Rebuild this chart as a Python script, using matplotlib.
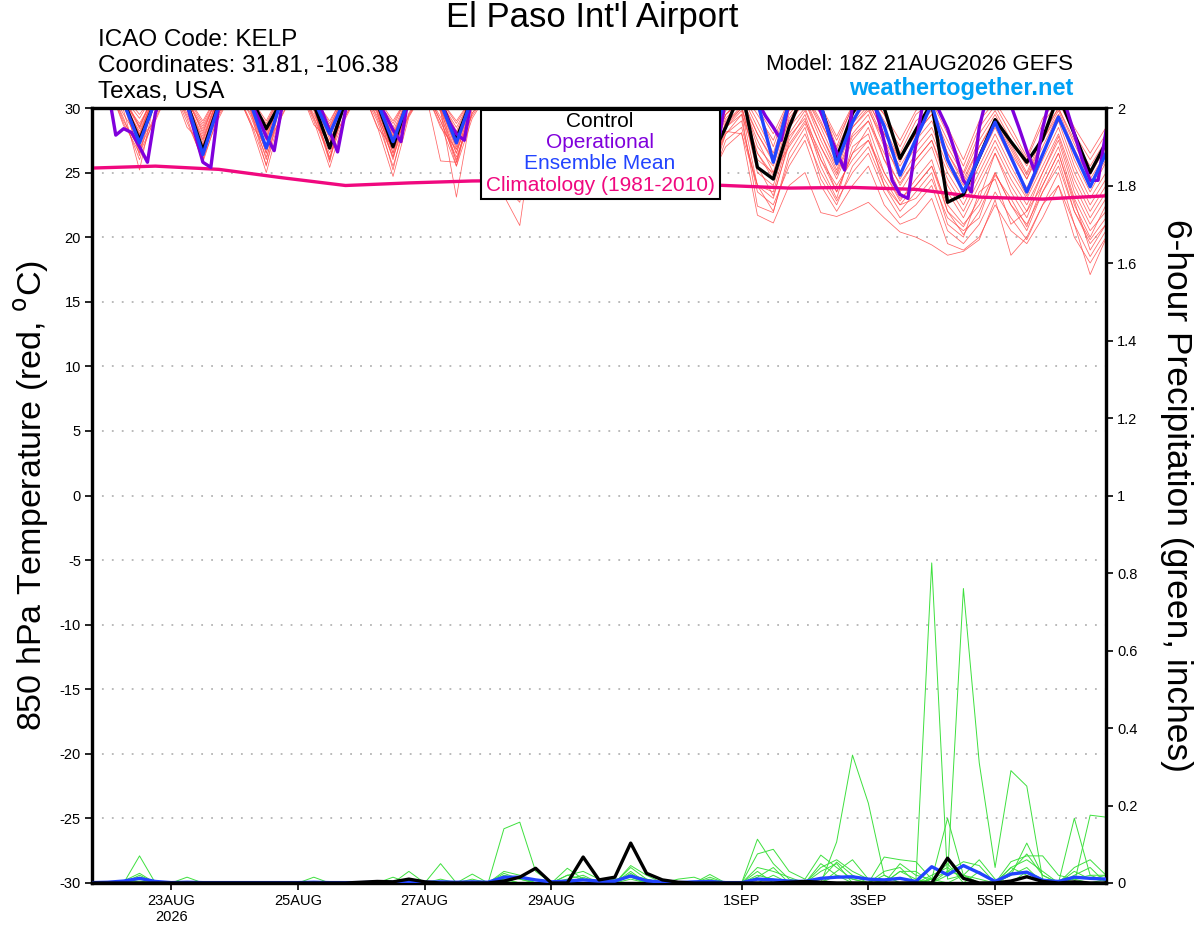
import numpy as np
import matplotlib
matplotlib.use("Agg")
import matplotlib.pyplot as plt
from matplotlib.patches import Rectangle

plt.rcParams['font.family'] = ['Liberation Sans', 'DejaVu Sans']
plt.rcParams['axes.unicode_minus'] = False

# ---------------- DATA ----------------
start = np.datetime64('2026-08-21T18:00')
n6 = 65    # 6-hourly steps (ensemble, control, mean, precip)
n3 = 129   # 3-hourly steps (operational)

ens_mean_t = [31.5, 32.0, 30.4, 27.3, 30.6, 32.0, 30.3, 26.4, 30.2, 32.0, 30.4, 26.9,
              30.8, 32.2, 30.6, 28.0, 30.8, 32.0, 30.5, 27.4, 30.7, 32.0, 30.4, 27.3,
              30.8, 31.8, 30.4, 27.5, 30.8, 31.8, 30.3, 27.0, 30.6, 31.6, 30.2, 26.6,
              30.5, 31.5, 30.0, 26.5, 31.0, 31.5, 30.5, 25.8, 30.5, 31.5, 30.3, 25.7,
              28.9, 31.2, 28.6, 24.8, 27.6, 30.3, 26.0, 23.5, 26.2, 28.9, 26.2, 23.5,
              26.4, 29.3, 26.6, 23.9, 26.5]

control_t = [31.5, 32.2, 30.5, 27.5, 30.6, 32.2, 30.4, 26.7, 30.3, 32.0, 30.8, 28.4,
             30.6, 32.0, 30.3, 26.9, 30.5, 32.0, 30.4, 27.0, 30.8, 32.0, 30.5, 27.6,
             30.8, 31.8, 30.3, 27.5, 30.6, 31.6, 30.2, 27.2, 30.4, 31.5, 30.1, 26.8,
             30.3, 31.5, 29.8, 26.0, 28.5, 31.5, 25.4, 24.5, 28.5, 31.5, 30.2, 26.1,
             29.6, 31.5, 30.0, 26.1, 28.3, 30.4, 22.7, 23.3, 26.2, 29.1, 27.4, 25.8,
             27.6, 31.0, 28.0, 25.0, 27.3]

operational_t = [31.8, 32.2, 31.5, 27.9, 28.4, 28.1, 27.0, 25.8,
                 29.6, 31.5, 32.3, 32.5, 30.3, 28.0, 25.8, 25.4,
                 30.2, 31.8, 32.5, 32.4, 30.5, 29.2, 27.8, 26.7,
                 30.2, 31.8, 32.5, 32.2, 30.8, 29.8, 28.2, 26.6,
                 29.8, 31.5, 32.4, 32.2, 30.5, 29.5, 28.3, 27.4,
                 31.0, 32.0, 32.5, 32.0, 30.5, 29.0, 28.0, 27.5,
                 31.0, 32.0, 32.4, 32.0, 30.6, 29.5, 28.4, 27.5,
                 30.8, 31.8, 32.2, 31.8, 30.5, 29.3, 28.2, 27.2,
                 30.6, 31.6, 32.0, 31.6, 30.4, 29.0, 27.9, 26.8,
                 30.5, 31.5, 32.0, 31.5, 30.3, 29.0, 28.0, 27.0,
                 30.8, 31.5, 32.0, 31.8, 30.5, 29.4, 28.5, 27.5,
                 30.5, 31.5, 32.0, 31.0, 29.7, 28.1, 26.6, 25.2,
                 30.2, 31.5, 32.0, 29.8, 27.4, 24.4, 23.3, 23.0,
                 27.2, 30.8, 31.0, 29.7, 28.4, 26.5, 24.4, 23.5,
                 28.5, 31.0, 31.5, 31.0, 30.2, 28.5, 26.7, 25.1,
                 28.4, 31.0, 31.5, 30.0, 28.0, 26.0, 24.4, 24.4,
                 28.2]

climatology_t = [25.35, 25.5, 25.25, 24.6, 24.0, 24.2, 24.35, 24.4, 24.3, 24.2,
                 24.0, 23.8, 23.85, 23.7, 23.1, 22.95, 23.2]   # daily (every 4th step)

members_t = [
    [31.0, 31.8, 29.2, 26.0, 29.5, 31.8, 29.4, 26.8, 29.6, 31.6, 29.0, 25.6, 29.8, 31.8, 29.2, 26.2,
     29.4, 31.5, 29.0, 25.5, 29.5, 31.4, 29.0, 26.0, 29.6, 31.2, 29.0, 25.5, 29.8, 31.0, 29.2, 25.2,
     29.6, 30.8, 28.8, 25.0, 29.5, 30.8, 28.5, 24.5, 27.0, 28.1, 21.7, 21.1, 24.0, 25.0, 21.9, 21.6,
     22.1, 22.7, 21.5, 20.4, 20.0, 19.4, 18.6, 18.9, 19.8, 22.9, 18.6, 20.0, 22.5, 24.0, 21.0, 17.1, 19.9],
    [31.2, 32.0, 30.4, 27.0, 31.0, 32.0, 30.0, 26.2, 30.8, 31.8, 30.2, 26.5, 31.0, 32.0, 30.3, 27.2,
     30.5, 31.8, 30.0, 26.5, 30.5, 31.6, 29.8, 23.1, 30.0, 31.2, 23.2, 20.9, 29.5, 31.0, 29.0, 25.8,
     29.8, 31.0, 29.0, 25.5, 29.5, 30.8, 28.8, 25.0, 28.0, 29.5, 22.4, 21.9, 26.5, 28.5, 24.5, 22.5,
     25.5, 27.0, 24.0, 22.5, 23.0, 24.5, 21.5, 20.5, 21.5, 25.0, 22.5, 21.0, 23.5, 25.5, 22.0, 19.5, 21.0],
    [31.5, 32.2, 30.8, 27.8, 31.2, 32.2, 30.5, 27.5, 31.0, 32.0, 30.2, 27.0, 31.2, 32.2, 30.4, 27.8,
     31.0, 32.0, 30.2, 27.2, 30.8, 31.8, 30.0, 26.8, 30.5, 31.5, 24.0, 22.7, 30.0, 31.4, 29.5, 26.5,
     30.0, 31.2, 29.4, 26.0, 29.8, 31.0, 29.0, 25.5, 28.5, 29.8, 24.0, 23.0, 27.5, 29.5, 26.0, 23.5,
     26.5, 28.5, 25.0, 22.8, 24.5, 26.0, 22.0, 20.8, 23.0, 26.5, 23.5, 21.5, 24.5, 27.0, 23.0, 20.5, 22.0],
    [31.6, 32.4, 31.0, 28.5, 31.5, 32.4, 30.8, 28.0, 31.4, 32.3, 30.8, 28.2, 31.5, 32.5, 31.0, 28.8,
     31.4, 32.3, 30.8, 28.5, 31.2, 32.2, 30.6, 28.2, 31.0, 32.0, 30.5, 28.0, 31.0, 32.0, 30.4, 27.8,
     30.8, 31.8, 30.2, 27.5, 30.6, 31.6, 30.0, 27.5, 30.5, 31.6, 30.0, 27.0, 30.5, 31.5, 30.2, 27.0,
     30.2, 31.0, 29.5, 26.5, 29.0, 30.0, 27.5, 25.0, 28.0, 29.8, 27.5, 25.5, 28.0, 30.0, 27.5, 25.5, 27.5],
    [31.0, 31.8, 28.8, 26.5, 29.2, 31.8, 28.9, 26.0, 29.4, 31.6, 28.8, 25.0, 29.5, 31.8, 29.0, 25.4,
     29.4, 31.6, 28.6, 24.7, 29.3, 31.4, 28.7, 25.5, 29.2, 31.2, 29.0, 25.0, 29.8, 31.0, 28.8, 24.5,
     29.5, 30.8, 28.5, 24.0, 29.0, 30.5, 28.0, 24.0, 27.5, 28.5, 24.0, 22.0, 26.0, 28.0, 25.0, 22.8,
     25.0, 26.5, 23.5, 21.5, 22.5, 24.0, 20.5, 19.5, 21.0, 23.5, 21.5, 19.8, 22.5, 25.0, 21.0, 18.5, 20.5],
    [31.3, 32.0, 30.2, 27.3, 31.0, 32.0, 30.3, 27.0, 30.8, 31.8, 30.0, 26.5, 31.0, 32.0, 30.2, 26.8,
     30.8, 31.8, 30.0, 26.5, 30.6, 31.6, 30.0, 25.8, 30.4, 31.4, 29.6, 26.0, 30.2, 31.2, 29.5, 25.8,
     30.0, 31.0, 29.2, 25.5, 29.8, 30.8, 29.0, 25.2, 28.8, 30.2, 25.0, 24.0, 28.0, 29.8, 27.0, 24.5,
     27.5, 29.0, 26.5, 24.0, 26.0, 27.5, 24.5, 22.5, 25.0, 27.5, 25.0, 23.0, 25.5, 28.0, 24.5, 22.0, 24.0],
    [31.5, 32.2, 30.6, 28.0, 31.2, 32.1, 30.4, 27.8, 31.0, 32.0, 30.5, 27.5, 31.2, 32.2, 30.6, 28.2,
     31.0, 32.0, 30.4, 27.8, 31.0, 32.0, 30.3, 27.5, 30.8, 31.8, 30.2, 27.2, 30.6, 31.6, 30.0, 27.0,
     30.5, 31.5, 29.8, 26.8, 30.4, 31.4, 29.6, 26.5, 29.5, 30.8, 27.0, 25.5, 29.5, 31.0, 28.5, 25.8,
     28.5, 30.0, 27.0, 25.0, 27.0, 28.5, 25.5, 23.5, 26.0, 28.5, 26.0, 23.8, 26.5, 29.0, 25.5, 23.0, 25.0],
    [31.2, 32.0, 30.5, 28.8, 31.0, 32.0, 30.6, 28.6, 31.0, 32.0, 30.5, 28.8, 31.3, 32.3, 30.8, 29.0,
     31.2, 32.2, 30.6, 28.8, 31.0, 32.0, 30.5, 28.5, 30.8, 31.8, 30.2, 28.2, 30.6, 31.6, 30.0, 28.0,
     30.5, 31.5, 30.0, 27.8, 30.3, 31.3, 29.8, 27.5, 30.0, 31.2, 29.0, 26.5, 30.2, 31.4, 29.5, 26.8,
     29.5, 30.8, 28.5, 26.0, 28.0, 29.5, 26.5, 24.5, 27.0, 29.2, 27.0, 24.8, 27.5, 29.8, 26.8, 24.5, 26.5],
    [31.4, 32.1, 30.5, 26.3, 31.0, 32.0, 30.2, 26.5, 30.8, 31.8, 30.2, 27.8, 31.0, 32.0, 30.0, 26.0,
     30.8, 31.8, 29.8, 26.0, 30.6, 31.6, 29.8, 26.5, 30.4, 31.4, 29.5, 24.5, 30.2, 31.2, 29.2, 24.0,
     30.0, 31.0, 29.0, 24.5, 29.8, 30.8, 28.8, 24.8, 29.0, 30.5, 26.5, 24.5, 28.8, 30.5, 27.5, 25.0,
     28.0, 29.5, 26.0, 23.5, 25.5, 27.0, 23.5, 21.5, 24.0, 26.5, 24.0, 22.0, 25.0, 27.5, 23.5, 21.0, 23.0],
    [31.6, 32.3, 30.8, 29.2, 31.4, 32.3, 30.9, 29.0, 31.2, 32.2, 30.8, 28.6, 31.4, 32.4, 31.0, 28.5,
     31.2, 32.2, 30.8, 28.2, 31.0, 32.0, 30.6, 28.8, 30.8, 31.8, 30.4, 28.5, 30.7, 31.7, 30.2, 28.2,
     30.6, 31.6, 30.1, 28.0, 30.5, 31.5, 30.0, 28.0, 30.2, 31.3, 29.5, 27.5, 30.5, 31.5, 30.0, 27.5,
     30.0, 31.2, 29.0, 27.0, 29.5, 30.5, 28.0, 25.5, 28.5, 30.2, 28.0, 26.0, 28.8, 30.5, 28.0, 26.0, 28.0],
    [31.0, 31.9, 28.6, 27.6, 29.0, 31.8, 28.5, 27.2, 29.2, 31.6, 28.8, 27.0, 29.4, 31.8, 28.7, 27.5,
     29.2, 31.6, 28.5, 27.0, 29.4, 31.5, 28.5, 26.8, 29.4, 31.3, 29.2, 26.5, 30.0, 31.0, 29.0, 26.2,
     29.8, 30.8, 28.8, 26.0, 29.6, 30.6, 28.5, 26.0, 28.5, 29.5, 26.0, 25.0, 27.0, 28.8, 26.0, 24.0,
     26.0, 27.5, 25.0, 23.0, 24.0, 25.5, 22.5, 21.0, 22.5, 25.0, 22.5, 20.5, 23.5, 26.0, 22.0, 19.8, 21.5],
    [31.3, 32.0, 30.3, 28.2, 31.1, 32.0, 30.1, 27.6, 30.9, 31.9, 30.3, 28.0, 31.1, 32.1, 30.2, 27.2,
     30.9, 31.9, 30.1, 27.5, 30.7, 31.7, 30.0, 27.0, 30.5, 31.5, 29.8, 26.8, 30.3, 31.3, 29.6, 26.5,
     30.2, 31.2, 29.5, 26.2, 30.0, 31.0, 29.2, 26.0, 29.5, 30.5, 28.0, 26.0, 29.0, 30.5, 28.0, 25.5,
     28.8, 30.2, 27.5, 25.5, 27.5, 29.0, 26.0, 24.0, 26.5, 29.0, 26.5, 24.5, 27.0, 29.5, 26.0, 23.5, 25.8],
    [31.1, 31.8, 29.8, 25.2, 30.9, 31.8, 29.9, 26.0, 30.7, 31.7, 29.9, 26.0, 30.9, 31.9, 29.8, 25.8,
     30.7, 31.7, 29.6, 25.2, 30.5, 31.5, 25.9, 25.8, 30.3, 31.3, 29.4, 25.5, 30.1, 31.1, 29.2, 25.0,
     29.9, 30.9, 29.0, 24.8, 29.7, 30.7, 28.7, 24.2, 28.0, 29.0, 23.5, 22.5, 25.5, 27.5, 24.0, 22.0,
     24.0, 25.5, 22.5, 21.0, 21.5, 23.0, 19.5, 19.0, 20.0, 22.5, 20.5, 19.5, 21.5, 24.0, 20.0, 18.0, 20.0],
    [31.5, 32.2, 30.7, 28.4, 31.3, 32.2, 30.6, 28.2, 31.1, 32.1, 30.6, 27.6, 31.3, 32.3, 30.7, 28.0,
     31.1, 32.1, 30.5, 27.8, 30.9, 31.9, 30.4, 27.6, 30.7, 31.7, 30.2, 27.4, 30.5, 31.5, 30.0, 27.2,
     30.4, 31.4, 29.9, 27.0, 30.2, 31.2, 29.7, 26.8, 29.8, 31.0, 28.5, 26.2, 30.0, 31.2, 29.0, 26.2,
     29.2, 30.5, 28.0, 25.8, 28.5, 29.8, 27.0, 24.8, 27.5, 29.5, 27.2, 25.0, 27.8, 30.0, 27.2, 24.8, 27.0],
    [31.2, 31.9, 29.0, 26.8, 29.5, 31.9, 29.2, 25.8, 29.6, 31.8, 29.4, 26.2, 29.8, 32.0, 29.3, 26.5,
     29.7, 31.8, 29.2, 26.2, 29.6, 31.6, 29.0, 26.2, 29.6, 31.4, 29.4, 25.8, 30.2, 31.2, 29.2, 25.5,
     30.0, 31.0, 29.0, 25.2, 29.8, 30.8, 28.8, 25.0, 28.2, 28.0, 24.0, 23.5, 27.8, 29.2, 25.5, 23.0,
     27.0, 28.0, 24.0, 22.0, 23.5, 25.0, 21.0, 20.0, 23.5, 24.5, 21.0, 22.0, 24.0, 26.5, 22.5, 20.0, 22.5],
    [31.4, 32.1, 30.6, 27.9, 31.2, 32.1, 30.4, 27.3, 31.0, 32.0, 30.4, 26.9, 31.2, 32.2, 30.5, 27.6,
     31.0, 32.0, 30.3, 27.0, 30.8, 31.8, 30.2, 27.2, 30.6, 31.6, 30.0, 27.0, 30.4, 31.4, 29.8, 26.8,
     30.3, 31.3, 29.7, 26.5, 30.1, 31.1, 29.5, 26.2, 29.2, 30.5, 27.5, 25.0, 29.2, 30.8, 28.0, 25.2,
     28.5, 29.8, 27.5, 24.5, 26.5, 28.0, 25.0, 23.0, 25.5, 28.0, 25.5, 23.2, 26.0, 28.5, 25.0, 22.5, 24.5],
    [31.0, 31.7, 29.5, 27.5, 30.8, 31.7, 29.6, 27.0, 30.6, 31.5, 29.6, 26.8, 30.8, 31.7, 29.5, 27.0,
     30.6, 31.5, 29.4, 26.8, 30.4, 31.4, 29.3, 26.5, 30.2, 31.2, 29.0, 26.2, 30.0, 31.0, 28.8, 26.0,
     29.8, 30.8, 28.6, 25.8, 29.6, 30.6, 28.4, 25.5, 28.8, 30.0, 26.5, 24.8, 28.5, 30.0, 27.0, 24.8,
     27.8, 29.0, 26.0, 24.2, 26.0, 27.5, 24.0, 22.0, 24.5, 27.0, 24.5, 22.5, 25.0, 27.8, 24.0, 21.5, 23.5],
    [31.5, 32.3, 31.0, 29.5, 31.3, 32.3, 30.8, 28.8, 31.2, 32.2, 30.8, 29.0, 31.4, 32.4, 31.0, 28.6,
     31.2, 32.2, 30.8, 29.0, 31.0, 32.0, 30.6, 29.0, 30.8, 31.8, 30.5, 28.8, 30.7, 31.7, 30.3, 28.5,
     30.6, 31.6, 30.2, 28.5, 30.5, 31.5, 30.0, 28.2, 30.4, 31.5, 30.0, 28.0, 30.6, 31.6, 30.2, 27.8,
     30.2, 31.3, 29.5, 27.5, 29.8, 30.8, 28.5, 26.0, 29.0, 30.5, 28.5, 26.2, 29.2, 30.8, 28.5, 26.5, 28.5],
    [31.2, 32.0, 30.2, 26.6, 31.0, 32.0, 30.0, 27.0, 30.8, 31.8, 29.8, 25.5, 31.0, 32.0, 30.0, 26.0,
     30.8, 31.8, 29.7, 26.2, 30.6, 31.6, 29.7, 25.5, 30.4, 31.4, 29.5, 25.2, 30.2, 31.2, 29.3, 25.0,
     30.0, 31.0, 29.0, 24.6, 29.7, 30.7, 28.6, 24.5, 28.6, 30.0, 25.5, 23.2, 27.2, 29.0, 26.5, 23.5,
     26.5, 27.5, 24.5, 22.5, 24.0, 25.5, 22.0, 20.2, 22.0, 24.8, 23.0, 20.8, 24.0, 26.5, 22.8, 19.0, 21.0],
    [31.4, 32.2, 30.6, 28.6, 31.2, 32.2, 30.5, 28.4, 31.0, 32.0, 30.4, 28.2, 31.2, 32.2, 30.6, 28.4,
     31.0, 32.0, 30.4, 28.0, 30.8, 31.8, 30.3, 28.0, 30.6, 31.6, 30.1, 27.8, 30.5, 31.5, 30.0, 27.5,
     30.4, 31.4, 29.9, 27.2, 30.2, 31.2, 29.7, 27.0, 29.5, 30.8, 28.0, 25.8, 29.8, 31.0, 28.8, 26.5,
     29.0, 30.5, 28.0, 26.0, 28.0, 29.5, 26.5, 24.2, 27.0, 29.0, 26.8, 24.5, 27.5, 29.5, 26.5, 24.0, 26.0],
]

ens_mean_p = [0.001, 0.002, 0.005, 0.012, 0.004, 0.001, 0.002, 0.001, 0.001, 0.001, 0.001, 0.001,
              0.001, 0.001, 0.002, 0.001, 0.001, 0.001, 0.002, 0.002, 0.004, 0.002, 0.003, 0.002,
              0.003, 0.002, 0.015, 0.015, 0.008, 0.003, 0.005, 0.008, 0.005, 0.005, 0.018, 0.006,
              0.002, 0.001, 0.003, 0.004, 0.001, 0.001, 0.010, 0.008, 0.005, 0.004, 0.012, 0.015,
              0.016, 0.010, 0.008, 0.012, 0.004, 0.042, 0.021, 0.045, 0.026, 0.004, 0.023, 0.028,
              0.007, 0.004, 0.015, 0.012, 0.010]

control_p = [0, 0, 0, 0, 0, 0, 0, 0, 0, 0, 0, 0, 0, 0, 0, 0,
             0, 0.002, 0.004, 0.003, 0.010, 0.003, 0, 0, 0, 0, 0.005, 0.015, 0.038, 0, 0, 0.067,
             0.008, 0.015, 0.103, 0.025, 0.008, 0.002, 0, 0, 0, 0, 0, 0, 0.002, 0.004, 0.002, 0,
             0, 0, 0, 0, 0, 0, 0.064, 0.012, 0, 0, 0.005, 0.016, 0.004, 0, 0.003, 0, 0]

members_p = [
    [0, 0, 0, 0.07, 0, 0, 0, 0, 0, 0, 0, 0, 0, 0, 0, 0,
     0, 0, 0, 0, 0, 0, 0, 0, 0, 0, 0.14, 0.157, 0.03, 0, 0, 0,
     0, 0, 0.04, 0.01, 0, 0, 0, 0, 0, 0, 0.02, 0.01, 0, 0, 0, 0.106,
     0.33, 0.206, 0.02, 0, 0, 0.01, 0, 0.02, 0.01, 0, 0.04, 0.02, 0, 0, 0.01, 0, 0],
    [0, 0, 0.005, 0.025, 0, 0, 0, 0, 0, 0, 0, 0, 0, 0, 0, 0,
     0, 0, 0, 0, 0.03, 0, 0.05, 0, 0.01, 0, 0.02, 0.01, 0, 0, 0.038, 0.01,
     0, 0, 0.02, 0, 0, 0, 0, 0.022, 0, 0, 0.113, 0.05, 0.01, 0, 0, 0.02,
     0.01, 0, 0, 0, 0.005, 0.826, 0.01, 0.02, 0.06, 0.01, 0, 0.03, 0.01, 0, 0, 0.175, 0.17],
    [0, 0, 0, 0.02, 0, 0, 0.015, 0, 0, 0, 0, 0, 0, 0, 0, 0,
     0, 0, 0, 0.015, 0, 0, 0, 0, 0.023, 0, 0, 0, 0, 0, 0.02, 0.03,
     0.01, 0, 0.03, 0, 0, 0.01, 0.015, 0, 0, 0, 0.075, 0.087, 0.03, 0.01, 0.072, 0.04,
     0.01, 0, 0.067, 0.06, 0.055, 0.01, 0.167, 0.02, 0, 0, 0.055, 0.07, 0.07, 0.02, 0.01, 0.02, 0.02],
    [0, 0, 0, 0.015, 0, 0, 0, 0, 0, 0, 0, 0, 0, 0, 0.015, 0,
     0, 0, 0, 0, 0, 0, 0, 0, 0, 0, 0.025, 0.01, 0, 0, 0.01, 0.02,
     0, 0, 0.02, 0.01, 0, 0, 0, 0.01, 0, 0, 0, 0.02, 0, 0, 0.01, 0.054,
     0.02, 0, 0, 0.03, 0.01, 0, 0.02, 0.76, 0.31, 0.04, 0.29, 0.25, 0.01, 0, 0, 0, 0.01],
    [0, 0, 0, 0.01, 0, 0, 0, 0, 0, 0, 0, 0, 0, 0, 0, 0,
     0, 0, 0, 0, 0, 0, 0.01, 0, 0, 0, 0.03, 0.02, 0, 0, 0.02, 0.01,
     0, 0, 0.025, 0, 0, 0, 0, 0.015, 0, 0, 0.04, 0.03, 0.015, 0, 0.04, 0.06,
     0.03, 0.01, 0, 0.05, 0.02, 0.01, 0.03, 0.055, 0.045, 0, 0.02, 0.103, 0.02, 0, 0.167, 0.02, 0.005],
    [0, 0, 0, 0.005, 0, 0, 0, 0, 0, 0, 0, 0, 0, 0, 0, 0,
     0, 0, 0, 0, 0.005, 0, 0, 0, 0, 0, 0.01, 0, 0, 0, 0, 0.015,
     0, 0.01, 0.015, 0, 0, 0, 0, 0, 0, 0, 0.015, 0.04, 0, 0, 0.05, 0.02,
     0, 0, 0.03, 0.04, 0, 0.02, 0.04, 0.01, 0, 0, 0.04, 0.06, 0.03, 0, 0.03, 0.01, 0.02],
    [0, 0, 0, 0, 0, 0, 0, 0, 0, 0, 0, 0, 0, 0, 0, 0,
     0, 0, 0, 0, 0, 0, 0, 0, 0.005, 0, 0.01, 0, 0, 0, 0, 0,
     0, 0, 0.01, 0, 0, 0, 0, 0, 0, 0, 0, 0, 0, 0, 0, 0.03,
     0.06, 0.01, 0, 0.03, 0.03, 0, 0.03, 0.02, 0, 0, 0.03, 0.075, 0.02, 0, 0.04, 0.06, 0.02],
    [0, 0, 0, 0, 0, 0, 0, 0, 0, 0, 0, 0, 0, 0, 0, 0,
     0, 0, 0, 0, 0.01, 0, 0, 0, 0, 0, 0, 0.015, 0, 0, 0, 0,
     0, 0, 0.045, 0.02, 0, 0, 0, 0, 0, 0, 0.03, 0, 0, 0, 0.03, 0.05,
     0, 0, 0.02, 0, 0, 0.01, 0.05, 0, 0.03, 0, 0.02, 0.04, 0, 0, 0.02, 0.04, 0],
]

tick_dates = ['2026-08-23', '2026-08-25', '2026-08-27', '2026-08-29',
              '2026-09-01', '2026-09-03', '2026-09-05']
tick_labels = ['23AUG\n2026', '25AUG', '27AUG', '29AUG', '1SEP', '3SEP', '5SEP']
temp_ticks = [30, 25, 20, 15, 10, 5, 0, -5, -10, -15, -20, -25, -30]
precip_ticks = [0, 0.2, 0.4, 0.6, 0.8, 1.0, 1.2, 1.4, 1.6, 1.8, 2.0]
precip_tick_labels = ['0', '0.2', '0.4', '0.6', '0.8', '1', '1.2', '1.4', '1.6', '1.8', '2']

legend_labels = ['Control', 'Operational', 'Ensemble Mean', 'Climatology (1981-2010)']

# ---------------- STYLE ----------------
C_RED = '#ff4a4a'
C_GREEN = '#3ee03e'
C_CTRL = 'black'
C_OP = '#8000dc'
C_MEAN = '#2244ff'
C_CLIM = '#f0087f'
legend_colors = [C_CTRL, C_OP, C_MEAN, C_CLIM]

t6 = (start + np.arange(n6) * np.timedelta64(6, 'h')).astype('datetime64[m]').astype(object)
t3 = (start + np.arange(n3) * np.timedelta64(3, 'h')).astype('datetime64[m]').astype(object)
t24 = t6[::4]

W, H = 1200, 927
fig = plt.figure(figsize=(W / 100, H / 100), dpi=100)
L, R, T, B = 92, 1106, 108, 883
ax = fig.add_axes([L / W, 1 - B / H, (R - L) / W, (B - T) / H])
ax2 = ax.twinx()

# temperature
for m in members_t:
    ax.plot(t6, m, color=C_RED, lw=0.55, alpha=0.85, zorder=2)
ax.plot(t24, climatology_t, color=C_CLIM, lw=2.4, zorder=3)
ax.plot(t6, control_t, color=C_CTRL, lw=2.4, zorder=4)
ax.plot(t3, operational_t, color=C_OP, lw=2.4, zorder=5)
ax.plot(t6, ens_mean_t, color=C_MEAN, lw=2.4, zorder=6)

ax.set_ylim(-30, 30)
ax.set_xlim(t6[0], t6[-1])
ax.set_yticks(temp_ticks)
ax.set_yticklabels([str(v) for v in temp_ticks])
for v in temp_ticks[1:-1]:
    ax.axhline(v, color='#b4b4b4', lw=1.3, ls=(0, (1, 4.5)), zorder=1)

# precipitation
for m in members_p:
    ax2.plot(t6, m, color=C_GREEN, lw=0.7, zorder=2)
ax2.plot(t6, ens_mean_p, color=C_MEAN, lw=2.4, zorder=3)
ax2.plot(t6, control_p, color=C_CTRL, lw=2.4, zorder=4)
ax2.set_ylim(0, 2)
ax2.set_yticks(precip_ticks)
ax2.set_yticklabels(precip_tick_labels)

ax.set_xticks([np.datetime64(d).astype(object) for d in tick_dates])
ax.set_xticklabels(tick_labels)

for a in (ax, ax2):
    for s in a.spines.values():
        s.set_linewidth(2.3)
    a.tick_params(axis='both', direction='out', length=5, width=1.2,
                  labelsize=10.5, pad=3)

ax.set_ylabel('850 hPa Temperature (red, $^{\\mathrm{o}}$C)', fontsize=24.5, va='center')
ax.yaxis.set_label_coords((32 - L) / (R - L), 0.5)
ax2.set_ylabel('6-hour Precipitation (green, inches)', fontsize=25.5, rotation=-90,
               va='center')
ax2.yaxis.set_label_coords((1176 - L) / (R - L), 0.5)

# legend box (text only, coloured)
lx0, lx1 = (481 - L) / (R - L), (720 - L) / (R - L)
ly0, ly1 = 1 - (199 - T) / (B - T), 1 - (110 - T) / (B - T)
ax2.add_patch(Rectangle((lx0, ly0), lx1 - lx0, ly1 - ly0, transform=ax2.transAxes,
                        facecolor='white', edgecolor='black', lw=1.5, zorder=20,
                        clip_on=False))
for lab, col, ypix in zip(legend_labels, legend_colors, [121, 142, 163, 185]):
    ax2.text((600 - L) / (R - L), 1 - (ypix - T) / (B - T), lab, color=col,
             fontsize=15, ha='center', va='center', transform=ax2.transAxes,
             zorder=21)

# header texts
fig.text(592 / W, 1 - 18 / H, "El Paso Int'l Airport", fontsize=25, ha='center', va='center')
fig.text(98 / W, 1 - 40 / H, 'ICAO Code: KELP', fontsize=17.5, ha='left', va='center')
fig.text(98 / W, 1 - 66 / H, 'Coordinates: 31.81, -106.38', fontsize=17.5, ha='left', va='center')
fig.text(98 / W, 1 - 92 / H, 'Texas, USA', fontsize=17.5, ha='left', va='center')
fig.text(1073 / W, 1 - 64 / H, 'Model: 18Z 21AUG2026 GEFS', fontsize=16, ha='right', va='center')
fig.text(1073 / W, 1 - 89 / H, 'weathertogether.net', fontsize=17, fontweight='bold',
         color='#00a0f5', ha='right', va='center')

fig.savefig('out.png', dpi=100)
